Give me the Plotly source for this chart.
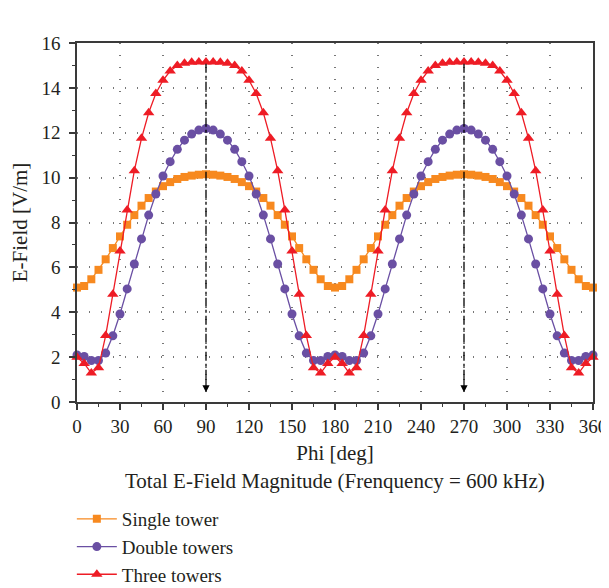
import plotly.graph_objects as go

phi = list(range(0, 361, 5))

single_tower = [5.10, 5.17, 5.47, 5.89, 6.36, 6.86, 7.38, 7.90, 8.33, 8.75, 9.09, 9.38, 9.62, 9.80, 9.94, 10.03, 10.09, 10.13, 10.15,
                10.13, 10.09, 10.03, 9.94, 9.80, 9.62, 9.38, 9.09, 8.75, 8.33, 7.90, 7.38, 6.86, 6.36, 5.89, 5.47, 5.17, 5.10,
                5.17, 5.47, 5.89, 6.36, 6.86, 7.38, 7.90, 8.33, 8.75, 9.09, 9.38, 9.62, 9.80, 9.94, 10.03, 10.09, 10.13, 10.15,
                10.13, 10.09, 10.03, 9.94, 9.80, 9.62, 9.38, 9.09, 8.75, 8.33, 7.90, 7.38, 6.86, 6.36, 5.89, 5.47, 5.17, 5.10]

double_towers = [2.10, 2.03, 1.85, 1.85, 2.18, 2.95, 3.92, 5.04, 6.15, 7.27, 8.33, 9.27, 10.07, 10.71, 11.26, 11.67, 11.94, 12.12, 12.19,
                 12.12, 11.94, 11.67, 11.26, 10.71, 10.07, 9.27, 8.33, 7.27, 6.15, 5.04, 3.92, 2.95, 2.18, 1.85, 1.85, 2.03, 2.10,
                 2.03, 1.85, 1.85, 2.18, 2.95, 3.92, 5.04, 6.15, 7.27, 8.33, 9.27, 10.07, 10.71, 11.26, 11.67, 11.94, 12.12, 12.19,
                 12.12, 11.94, 11.67, 11.26, 10.71, 10.07, 9.27, 8.33, 7.27, 6.15, 5.04, 3.92, 2.95, 2.18, 1.85, 1.85, 2.03, 2.10]

three_towers = [2.00, 1.72, 1.29, 1.53, 2.96, 4.80, 6.73, 8.56, 10.31, 11.75, 12.89, 13.75, 14.34, 14.75, 15.00, 15.10, 15.14, 15.15, 15.15,
                15.15, 15.14, 15.10, 15.00, 14.75, 14.34, 13.75, 12.89, 11.75, 10.31, 8.56, 6.73, 4.80, 2.96, 1.53, 1.29, 1.72, 2.00,
                1.72, 1.29, 1.53, 2.96, 4.80, 6.73, 8.56, 10.31, 11.75, 12.89, 13.75, 14.34, 14.75, 15.00, 15.10, 15.14, 15.15, 15.15,
                15.15, 15.14, 15.10, 15.00, 14.75, 14.34, 13.75, 12.89, 11.75, 10.31, 8.56, 6.73, 4.80, 2.96, 1.53, 1.29, 1.72, 2.00]

series_names = ["Single tower", "Double towers", "Three towers"]
x_ticks = list(range(0, 361, 30))
y_ticks = list(range(0, 17, 2))
peak_angles = [90, 270]

FONT = "Liberation Serif"
AXIS_COLOR = "#3a3a3a"
TEXT_COLOR = "#231f20"

fig = go.Figure()
fig.add_trace(go.Scatter(x=phi, y=single_tower, name=series_names[0], mode="lines+markers",
                         line=dict(color="#f7891f", width=1.3),
                         marker=dict(symbol="square", size=8, color="#f7891f"), cliponaxis=False))
fig.add_trace(go.Scatter(x=phi, y=double_towers, name=series_names[1], mode="lines+markers",
                         line=dict(color="#6a4fa3", width=1.3),
                         marker=dict(symbol="circle", size=9, color="#6a4fa3"), cliponaxis=False))
fig.add_trace(go.Scatter(x=phi, y=three_towers, name=series_names[2], mode="lines+markers",
                         line=dict(color="#ee1c25", width=1.3),
                         marker=dict(symbol="triangle-up", size=10, color="#ee1c25"), cliponaxis=False))

for a in peak_angles:
    fig.add_shape(type="line", x0=a, x1=a, y0=15.08, y1=1.2, xref="x", yref="y",
                  line=dict(color="black", width=1.3, dash="dashdot"), layer="above")
    fig.add_annotation(x=a, y=0.43, ax=a, ay=1.3, axref="x", ayref="y", xref="x", yref="y",
                       text="", showarrow=True, arrowhead=2, arrowsize=1.2, arrowwidth=1.2,
                       arrowcolor="black")

fig.add_annotation(text="Total E-Field Magnitude (Frenquency = 600 kHz)", xref="paper", yref="paper",
                   x=0.5, y=-0.219, xanchor="center", yanchor="middle", showarrow=False,
                   font=dict(family=FONT, size=21, color=TEXT_COLOR))

fig.update_xaxes(range=[0, 360], tickvals=x_ticks, showline=True, linecolor=AXIS_COLOR, linewidth=1.5,
                 mirror=True, ticks="outside", ticklen=6, tickwidth=1.5, tickcolor=AXIS_COLOR,
                 minor=dict(dtick=15, ticks="outside", ticklen=3, tickwidth=1.2, tickcolor=AXIS_COLOR, showgrid=False),
                 showgrid=True, gridcolor="#777777", gridwidth=1.5, griddash="1px,11px", zeroline=False,
                 automargin=False, tickfont=dict(size=19),
                 title=dict(text="Phi [deg]", standoff=10, font=dict(size=21)))
fig.update_yaxes(range=[0, 16], tickvals=y_ticks, showline=True, linecolor=AXIS_COLOR, linewidth=1.5,
                 mirror=True, ticks="outside", ticklen=6, tickwidth=1.5, tickcolor=AXIS_COLOR,
                 minor=dict(dtick=1, ticks="outside", ticklen=3, tickwidth=1.2, tickcolor=AXIS_COLOR, showgrid=False),
                 showgrid=True, gridcolor="#777777", gridwidth=1.5, griddash="1px,11px", zeroline=False,
                 automargin=False, tickfont=dict(size=19), ticklabelstandoff=5,
                 title=dict(text="E-Field [V/m]", standoff=14, font=dict(size=21)))

# page body has an 8px default margin, so the figure is sized/offset to compensate
fig.update_layout(width=601, height=580, margin=dict(l=69, r=16, t=35, b=186, autoexpand=False),
                  plot_bgcolor="white", paper_bgcolor="white",
                  font=dict(family=FONT, size=19, color=TEXT_COLOR),
                  showlegend=True,
                  legend=dict(x=-0.01, y=-0.273, xanchor="left", yanchor="top", orientation="v",
                              font=dict(size=19), bgcolor="rgba(0,0,0,0)", tracegroupgap=0,
                              itemwidth=40))

fig.write_html("out.html")
